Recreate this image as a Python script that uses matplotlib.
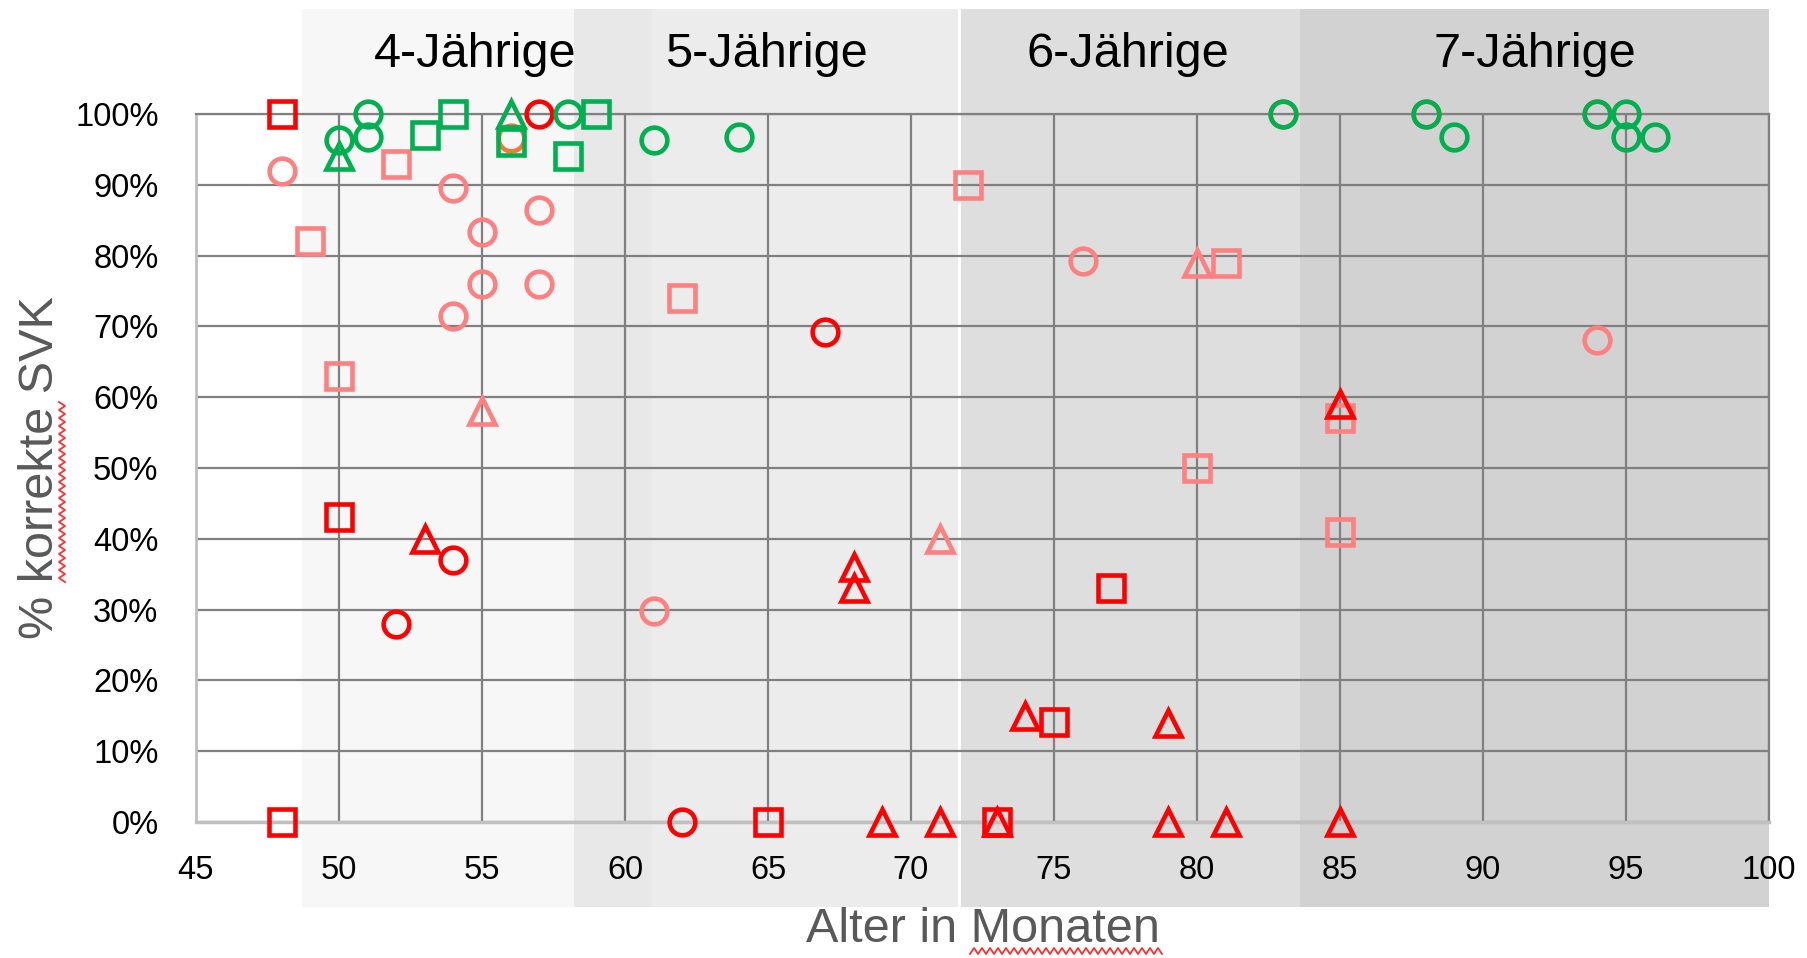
import numpy as np
import matplotlib
matplotlib.use("Agg")
import matplotlib.pyplot as plt
from matplotlib.lines import Line2D

plt.rcParams["font.family"] = ["Liberation Sans", "DejaVu Sans"]

# Data: age in months vs. share of correct SVK
lr_circ_x = [48, 54, 55, 57, 55, 57, 54, 61, 76, 94]
lr_circ_y = [92, 89.5, 83.3, 86.4, 76, 76, 71.5, 29.8, 79.3, 68.1]
lr_sq_x = [52, 49, 50, 62, 72, 81, 80, 85, 85]
lr_sq_y = [93, 82, 63, 74, 90, 79, 50, 57, 41]
lr_tri_x = [55, 71, 80]
lr_tri_y = [58, 40, 79]

or_circ_x = [56, 83, 88, 94]
or_circ_y = [96.6, 100, 100, 100]

r_circ_x = [57, 67, 54, 52, 62]
r_circ_y = [100, 69.2, 37, 28, 0]
r_sq_x = [48, 50, 77, 75, 48, 65, 73]
r_sq_y = [100, 43.1, 33.1, 14.1, 0, 0, 0]
r_tri_x = [53, 68, 68, 74, 79, 85, 69, 71, 73, 79, 81, 85]
r_tri_y = [40, 36, 33, 15, 14, 59, 0, 0, 0, 0, 0, 0]

g_circ_x = [50, 51, 51, 58, 61, 64, 83, 88, 89, 94, 95, 95, 96]
g_circ_y = [96.3, 100, 96.8, 100, 96.3, 96.8, 100, 100, 96.8, 100, 100, 96.8, 96.8]
g_sq_x = [53, 54, 56, 58, 59]
g_sq_y = [97, 100, 96, 94.1, 100]
g_tri_x = [50, 56]
g_tri_y = [94, 100]

# age groups (shaded bands)
band_labels = ["4-Jährige", "5-Jährige", "6-Jährige", "7-Jährige"]
band_edges = [(48.7, 58.2), (60.95, 71.65), (71.75, 83.6), (83.6, 100)]
band_colors = ["#f7f7f7", "#ececec", "#dedede", "#d2d2d2"]
label_x = [54.75, 64.95, 77.6, 91.8]

xticks = [45, 50, 55, 60, 65, 70, 75, 80, 85, 90, 95, 100]
yticks = [0, 10, 20, 30, 40, 50, 60, 70, 80, 90, 100]

RED = "#ff0000"
LRED = "#ff8080"
GREEN = "#00b050"
ORANGE = "#ed7d31"

fig = plt.figure(figsize=(18.07, 9.58), dpi=100)
ax = fig.add_axes([196 / 1807, 136 / 958, 1573 / 1807, 708 / 958])
ax.patch.set_visible(False)

# background bands, reaching above and below the plot area
for (x0, x1), c in zip(band_edges, band_colors):
    ax.axvspan(x0, x1, ymin=-0.12, ymax=1.148, color=c, lw=0, zorder=0.1, clip_on=False)
ax.axvspan(58.2, 60.95, ymin=-0.12, ymax=1.148, color="#e8e8e8", lw=0, zorder=0.1, clip_on=False)

for lab, lx in zip(band_labels, label_x):
    ax.text(lx, 1.084, lab, transform=ax.get_xaxis_transform(), ha="center", va="center",
            fontsize=35, color="black")

ms = 18.5
mew = 3.3


def pts(x, y, marker, color):
    ax.plot(x, np.array(y) / 100, linestyle="none", marker=marker, markersize=ms,
            markerfacecolor="none", markeredgecolor=color, markeredgewidth=mew,
            clip_on=False, zorder=3)


pts(lr_circ_x, lr_circ_y, "o", LRED)
pts(lr_sq_x, lr_sq_y, "s", LRED)
pts(lr_tri_x, lr_tri_y, "^", LRED)
pts(or_circ_x, or_circ_y, "o", ORANGE)
pts(r_circ_x, r_circ_y, "o", RED)
pts(r_sq_x, r_sq_y, "s", RED)
pts(r_tri_x, r_tri_y, "^", RED)
pts(g_circ_x, g_circ_y, "o", GREEN)
pts(g_sq_x, g_sq_y, "s", GREEN)
pts(g_tri_x, g_tri_y, "^", GREEN)

ax.set_xlim(45, 100)
ax.set_ylim(0, 1)
ax.set_xticks(xticks)
ax.set_yticks([v / 100 for v in yticks])
ax.set_yticklabels([f"{v}%" for v in yticks])
ax.tick_params(length=0, labelsize=23.5, pad=24, colors="black")
ax.tick_params(axis="y", pad=27)
ax.grid(True, color="#808080", linewidth=1.6)
ax.set_axisbelow(True)

for side in ["top", "right"]:
    ax.spines[side].set_color("#808080")
    ax.spines[side].set_linewidth(1.6)
ax.spines["left"].set_color("#c0c0c0")
ax.spines["left"].set_linewidth(2)
ax.spines["bottom"].set_color("#c0c0c0")
ax.spines["bottom"].set_linewidth(2.5)

ax.text(0.5, -0.152, "Alter in Monaten", transform=ax.transAxes, ha="center", va="center",
        fontsize=35, color="#595959")
ax.text(-0.099, 0.5, "% korrekte SVK", transform=ax.transAxes, ha="center", va="center",
        rotation=90, fontsize=35, color="#595959")

# red spell-check squiggles under "korrekte" and "Monaten"
W, H = 1807, 958
t = np.arange(0, 194, 4)
zig = np.where((t // 4) % 2 == 0, -3, 3)
fig.add_artist(Line2D((970 + t) / W, (H - 951 + zig) / H, color="#ff3030", lw=1.3))
t2 = np.arange(0, 182, 4)
zig2 = np.where((t2 // 4) % 2 == 0, -3, 3)
fig.add_artist(Line2D((62 + zig2) / W, (H - 402 - t2) / H, color="#ff3030", lw=1.3))

fig.savefig("out.png", dpi=100, facecolor="white")
